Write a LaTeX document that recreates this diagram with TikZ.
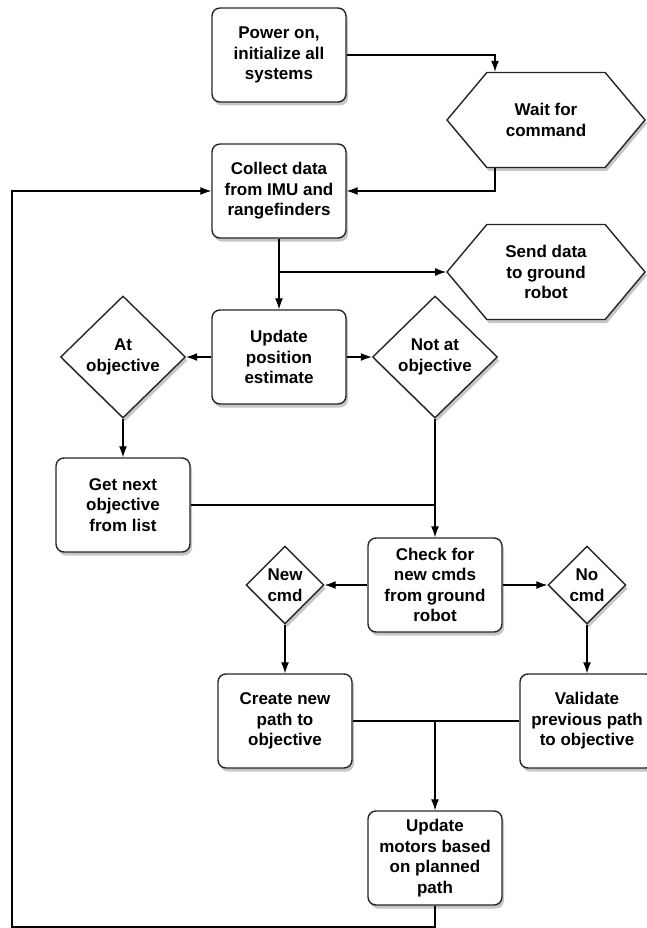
\documentclass[tikz,border=0pt]{standalone}
\usepackage{fontspec}
\setmainfont{Liberation Sans}
\usetikzlibrary{arrows.meta,shapes.geometric,shapes.symbols,shadows}
\tikzset{
  base/.style={draw=black!85, line width=1.4pt, fill=white, align=center,
    font=\fontsize{17}{20.5}\selectfont\bfseries, inner sep=0pt,
    drop shadow={shadow xshift=2pt, shadow yshift=-3.5pt, opacity=0.45}},
  stepbox/.style={base, rectangle, rounded corners=8pt,
    minimum width=134pt, minimum height=94pt},
  hexbox/.style={base, signal, signal to=west and east, signal pointer angle=100,
    minimum width=198pt, minimum height=95pt},
  bigdec/.style={base, diamond, minimum width=125pt, minimum height=122pt},
  smalldec/.style={base, diamond, minimum width=78pt, minimum height=78pt},
  arr/.style={line width=1.1pt, -{Latex[length=11pt,width=8pt]}},
  ln/.style={line width=1.1pt}
}
\begin{document}
\begin{tikzpicture}[x=1pt,y=-1pt]
\useasboundingbox (0,0) rectangle (647,928);
% boxes
\node[stepbox] (power) at (279,55) {Power on,\\initialize all\\systems};
\node[hexbox] (wait) at (546,120) {Wait for\\command};
\node[stepbox] (collect) at (279,191) {Collect data\\from IMU and\\rangefinders};
\node[hexbox] (send) at (546,272) {Send data\\to ground\\robot};
\node[stepbox] (update) at (279,357) {Update\\position\\estimate};
\node[bigdec] (atobj) at (123,357) {At\\objective};
\node[bigdec] (notat) at (435,357) {Not at\\objective};
\node[stepbox] (getnext) at (123,505) {Get next\\objective\\from list};
\node[stepbox] (check) at (435,585) {Check for\\new cmds\\from ground\\robot};
\node[smalldec] (newcmd) at (285,585) {New\\cmd};
\node[smalldec] (nocmd) at (587,585) {No\\cmd};
\node[stepbox] (create) at (285,721) {Create new\\path to\\objective};
\node[stepbox] (validate) at (587,721) {Validate\\previous path\\to objective};
\node[stepbox] (motors) at (435,858) {Update\\motors based\\on planned\\path};
\coordinate (loopbot) at (12,927);
% connectors
\draw[arr] (power.east) -| ([xshift=-51pt]wait.north);
\draw[arr] ([xshift=-51pt]wait.south) |- (collect.east);
\draw[arr] (collect.south) -- (update.north);
\draw[arr] (collect.south |- send.west) -- (send.west);
\draw[arr] (update.west) -- (atobj.east);
\draw[arr] (update.east) -- (notat.west);
\draw[arr] (atobj.south) -- (getnext.north);
\draw[ln] (getnext.east) -- (getnext.east -| notat.south);
\draw[arr] (notat.south) -- (check.north);
\draw[arr] (check.west) -- (newcmd.east);
\draw[arr] (check.east) -- (nocmd.west);
\draw[arr] (newcmd.south) -- (create.north);
\draw[arr] (nocmd.south) -- (validate.north);
\draw[ln] (create.east) -- (validate.west);
\draw[arr] (create.east -| motors.north) -- (motors.north);
\draw[arr] (motors.south) |- (loopbot) |- (collect.west);
\end{tikzpicture}
\end{document}
